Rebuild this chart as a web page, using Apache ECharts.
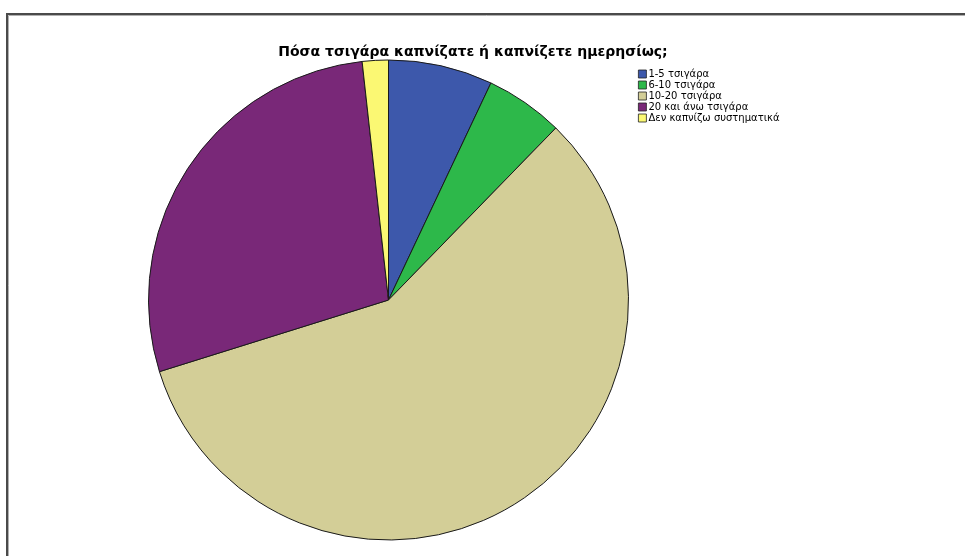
<!DOCTYPE html>
<html>
<head>
<meta charset="utf-8">
<script src="https://cdn.jsdelivr.net/npm/echarts@6/dist/echarts.min.js"></script>
<style>
  html, body { margin: 0; padding: 0; background: #ffffff; }
  #chart { width: 965px; height: 556px; }
</style>
</head>
<body>
<div id="chart"></div>
<script>
// Daily cigarette consumption (number of respondents per answer)
const titleText = 'Πόσα τσιγάρα καπνίζατε ή καπνίζετε ημερησίως;';
const categories = ['1-5 τσιγάρα', '6-10 τσιγάρα', '10-20 τσιγάρα', '20 και άνω τσιγάρα', 'Δεν καπνίζω συστηματικά'];
const counts = [4, 3, 33, 16, 1];
const sliceColors = ['#3d58ab', '#2db84a', '#d3ce97', '#792878', '#fbf873'];

const chart = echarts.init(document.getElementById('chart'), null, { renderer: 'canvas' });

const pieData = categories.map((name, i) => ({
  name: name,
  value: counts[i],
  itemStyle: { color: sliceColors[i] }
}));

chart.setOption({
  animation: false,
  backgroundColor: '#ffffff',
  textStyle: { fontFamily: 'DejaVu Sans, sans-serif' },
  title: {
    text: titleText,
    left: 468,
    textAlign: 'center',
    top: 40,
    textStyle: {
      fontFamily: 'DejaVu Sans, sans-serif',
      fontSize: 14,
      fontWeight: 'bold',
      color: '#000000'
    }
  },
  legend: {
    orient: 'vertical',
    left: 633,
    top: 64,
    itemWidth: 8,
    itemHeight: 8,
    itemGap: 1,
    icon: 'rect',
    selectedMode: false,
    data: categories,
    itemStyle: { borderColor: '#222222', borderWidth: 0.8 },
    textStyle: {
      fontFamily: 'DejaVu Sans, sans-serif',
      fontSize: 10,
      color: '#000000',
      padding: [0, 0, 0, -3]
    }
  },
  graphic: [
    {
      type: 'polyline',
      silent: true,
      shape: { points: [[7, 556], [7, 14], [965, 14]] },
      style: { stroke: '#4a4a4a', lineWidth: 2, fill: null }
    },
    {
      type: 'polyline',
      silent: true,
      shape: { points: [[8.5, 556], [8.5, 15.5], [965, 15.5]] },
      style: { stroke: '#b0b0b0', lineWidth: 1, fill: null }
    }
  ],
  series: [{
    type: 'pie',
    center: [388.5, 300],
    radius: 240,
    startAngle: 90,
    clockwise: true,
    silent: true,
    label: { show: false },
    labelLine: { show: false },
    emphasis: { disabled: true },
    itemStyle: { borderColor: '#1a1a1a', borderWidth: 1 },
    data: pieData
  }]
});
</script>
</body>
</html>
